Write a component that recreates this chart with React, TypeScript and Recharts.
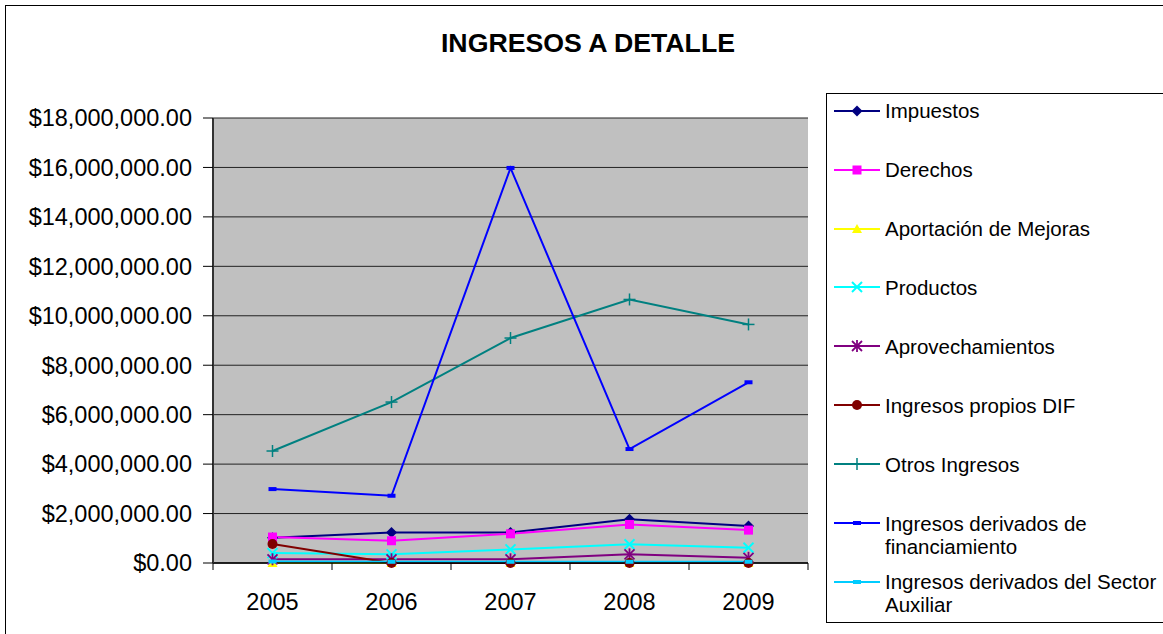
import React from "react"
import { LineChart, Line, XAxis, YAxis, CartesianGrid } from "recharts"

// categories + series
const years = ["2005", "2006", "2007", "2008", "2009"]
const impuestos = [1020000, 1230000, 1230000, 1770000, 1500000]
const derechos = [1050000, 900000, 1180000, 1560000, 1330000]
const aportacionMejoras = [0, 0, 0, 0, 0]
const productos = [400000, 350000, 550000, 760000, 620000]
const aprovechamientos = [150000, 150000, 150000, 350000, 210000]
const ingresosDif = [770000, 0, 0, 0, 0]
const otrosIngresos = [4530000, 6510000, 9100000, 10660000, 9650000]
const financiamiento = [2990000, 2720000, 15980000, 4610000, 7310000]
const sectorAuxiliar = [60000, 50000, 50000, 50000, 50000]
const yTicks = [0, 2000000, 4000000, 6000000, 8000000, 10000000, 12000000, 14000000, 16000000, 18000000]

type Shape = "diamond" | "square" | "triangle" | "x" | "star" | "circle" | "plus" | "dash"

const SERIES: { key: string; name: string; color: string; shape: Shape; values: number[] }[] = [
  { key: "impuestos", name: "Impuestos", color: "#000080", shape: "diamond", values: impuestos },
  { key: "derechos", name: "Derechos", color: "#FF00FF", shape: "square", values: derechos },
  { key: "mejoras", name: "Aportación de Mejoras", color: "#FFFF00", shape: "triangle", values: aportacionMejoras },
  { key: "productos", name: "Productos", color: "#00FFFF", shape: "x", values: productos },
  { key: "aprovechamientos", name: "Aprovechamientos", color: "#800080", shape: "star", values: aprovechamientos },
  { key: "dif", name: "Ingresos propios DIF", color: "#800000", shape: "circle", values: ingresosDif },
  { key: "otros", name: "Otros Ingresos", color: "#008080", shape: "plus", values: otrosIngresos },
  { key: "financiamiento", name: "Ingresos derivados de financiamiento", color: "#0000FF", shape: "dash", values: financiamiento },
  { key: "auxiliar", name: "Ingresos derivados del Sector Auxiliar", color: "#00CCFF", shape: "dash", values: sectorAuxiliar }
]

const chartData = years.map((year, i) => {
  const row: Record<string, string | number> = { year }
  SERIES.forEach(s => { row[s.key] = s.values[i] })
  return row
})

const FONT = "'Liberation Sans', Arial, sans-serif"
const CHART_W = 820
const CHART_H = 634
const MARGIN = { top: 118, right: 12, bottom: 0, left: 0 }
const Y_AXIS_W = 213
const STEP = (CHART_W - MARGIN.left - MARGIN.right - Y_AXIS_W) / years.length

const money = (v: number) =>
  "$" + v.toLocaleString("en-US", { minimumFractionDigits: 2, maximumFractionDigits: 2 })

function Marker({ shape, color, cx, cy }: { shape: Shape; color: string; cx: number; cy: number }) {
  switch (shape) {
    case "diamond":
      return <polygon points={`${cx},${cy - 5.5} ${cx + 5.5},${cy} ${cx},${cy + 5.5} ${cx - 5.5},${cy}`} fill={color} />
    case "square":
      return <rect x={cx - 4.5} y={cy - 4.5} width={9} height={9} fill={color} />
    case "triangle":
      return <polygon points={`${cx},${cy - 5} ${cx + 5},${cy + 4} ${cx - 5},${cy + 4}`} fill={color} />
    case "x":
      return (
        <g stroke={color} strokeWidth={2}>
          <line x1={cx - 5} y1={cy - 5} x2={cx + 5} y2={cy + 5} />
          <line x1={cx - 5} y1={cy + 5} x2={cx + 5} y2={cy - 5} />
        </g>
      )
    case "star":
      return (
        <g stroke={color} strokeWidth={1.8}>
          <line x1={cx - 5} y1={cy - 5} x2={cx + 5} y2={cy + 5} />
          <line x1={cx - 5} y1={cy + 5} x2={cx + 5} y2={cy - 5} />
          <line x1={cx} y1={cy - 6} x2={cx} y2={cy + 6} />
        </g>
      )
    case "circle":
      return <circle cx={cx} cy={cy} r={5} fill={color} />
    case "plus":
      return (
        <g stroke={color} strokeWidth={1.5}>
          <line x1={cx - 6} y1={cy} x2={cx + 6} y2={cy} />
          <line x1={cx} y1={cy - 6} x2={cx} y2={cy + 6} />
        </g>
      )
    case "dash":
      return <rect x={cx - 4} y={cy - 2} width={8} height={4} fill={color} />
  }
  return null
}

function XTick(props: any) {
  const { x, y, payload } = props
  const isLast = payload.value === years[years.length - 1]
  return (
    <g>
      <line x1={x - STEP / 2} y1={y} x2={x - STEP / 2} y2={y + 7} stroke="#000" />
      {isLast && <line x1={x + STEP / 2} y1={y} x2={x + STEP / 2} y2={y + 7} stroke="#000" />}
      <text x={x} y={y + 47} textAnchor="middle" fontSize={23.5} fill="#000" fontFamily={FONT}>
        {payload.value}
      </text>
    </g>
  )
}

function LegendBox() {
  return (
    <div
      style={{
        position: "absolute",
        left: 826,
        top: 93,
        width: 400,
        height: 528,
        border: "1px solid #000",
        background: "#fff"
      }}
    >
      {SERIES.map((s, i) => {
        const center = 16.7 + 58.9 * i
        return (
          <div key={s.key}>
            <svg
              width={46}
              height={16}
              style={{ position: "absolute", left: 7, top: center - 8 }}
            >
              <line x1={0} y1={8} x2={46} y2={8} stroke={s.color} strokeWidth={2} />
              <Marker shape={s.shape} color={s.color} cx={23} cy={8} />
            </svg>
            <div
              style={{
                position: "absolute",
                left: 58,
                top: center - 11.5,
                width: 280,
                fontSize: 20.5,
                lineHeight: "23px",
                color: "#000"
              }}
            >
              {s.name}
            </div>
          </div>
        )
      })}
    </div>
  )
}

export default function App() {
  return (
    <div
      style={{
        position: "absolute",
        left: 0,
        top: 0,
        width: 1163,
        height: 634,
        overflow: "hidden",
        background: "#fff",
        fontFamily: FONT
      }}
    >
      <div
        style={{
          position: "absolute",
          left: 5,
          top: 5,
          width: 1250,
          height: 700,
          border: "1px solid #000"
        }}
      />
      <div
        style={{
          position: "absolute",
          left: 0,
          top: 28,
          width: 1176,
          textAlign: "center",
          fontSize: 26.7,
          fontWeight: "bold",
          lineHeight: "30px"
        }}
      >
        INGRESOS A DETALLE
      </div>
      <div style={{ position: "absolute", left: 0, top: 0 }}>
        <LineChart width={CHART_W} height={CHART_H} data={chartData} margin={MARGIN}>
          <CartesianGrid vertical={false} stroke="#222" fill="#C0C0C0" fillOpacity={1} />
          <XAxis
            dataKey="year"
            height={71}
            padding={{ left: STEP / 2, right: STEP / 2 }}
            tickLine={false}
            tickSize={0}
            tickMargin={0}
            axisLine={{ stroke: "#000", strokeWidth: 1.5 }}
            tick={<XTick />}
            interval={0}
          />
          <YAxis
            width={Y_AXIS_W}
            domain={[0, 18000000]}
            ticks={yTicks}
            tickFormatter={money}
            tickSize={10}
            tickMargin={11}
            tickLine={{ stroke: "#000" }}
            axisLine={{ stroke: "#333", strokeWidth: 2 }}
            tick={{ fontSize: 23.5, fill: "#000", fontFamily: FONT }}
            interval={0}
          />
          <YAxis
            yAxisId="frame"
            orientation="right"
            width={0}
            domain={[0, 18000000]}
            tick={false}
            tickLine={false}
            axisLine={{ stroke: "#808080", strokeWidth: 1.5 }}
          />
          {SERIES.map(s => (
            <Line
              key={s.key}
              type="linear"
              dataKey={s.key}
              name={s.name}
              stroke={s.color}
              strokeWidth={2}
              isAnimationActive={false}
              activeDot={false}
              dot={(p: any) => (
                <Marker key={`${s.key}-${p.index}`} shape={s.shape} color={s.color} cx={p.cx} cy={p.cy} />
              )}
            />
          ))}
        </LineChart>
      </div>
      <LegendBox />
    </div>
  )
}
